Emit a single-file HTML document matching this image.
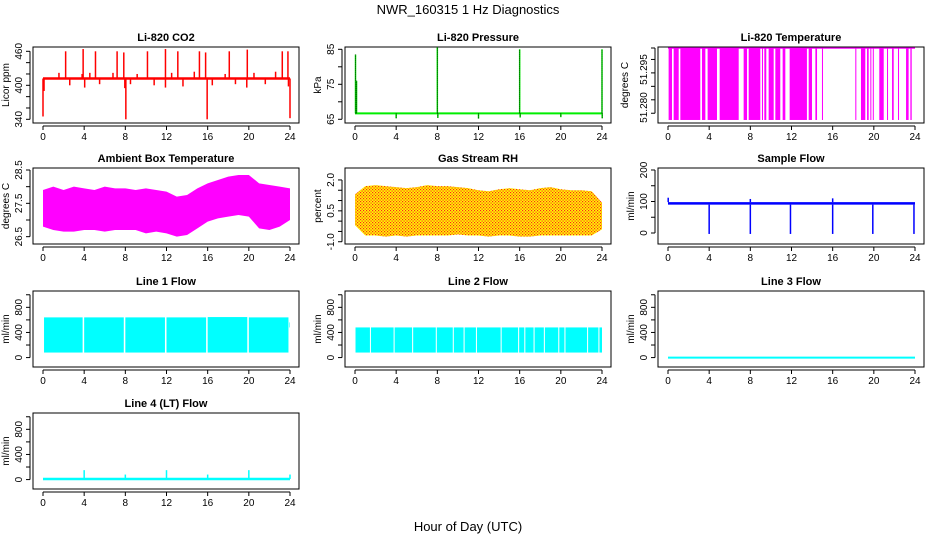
<!DOCTYPE html>
<html><head><meta charset="utf-8"><style>
html,body{margin:0;padding:0;background:#fff;}
svg{display:block;font-family:"Liberation Sans",sans-serif;}
</style></head><body>
<svg id="chart" width="936" height="540" viewBox="0 0 936 540" xmlns="http://www.w3.org/2000/svg">
<defs>
<pattern id="rhdots" width="3" height="3" patternUnits="userSpaceOnUse">
<rect width="3" height="3" fill="#ffff00"/><rect x="0" y="0" width="1.2" height="1.2" fill="#ff2020"/><rect x="1.5" y="1.5" width="1.2" height="1.2" fill="#ff2020"/>
</pattern>
</defs>
<text x="468" y="14" text-anchor="middle" font-size="13">NWR_160315  1 Hz Diagnostics</text>
<text x="468" y="531" text-anchor="middle" font-size="13">Hour of Day (UTC)</text>
</svg>
<script>
// ---- data ----
const xTicks = [0,4,8,12,16,20,24];
const co2Base = 412;
const co2Hours = [2.2,3.9,5.1,7.2,7.85,10.15,11.9,13.1,15.2,15.8,18.1,19.85,23.25,23.8,1.55,3.8,4.55,6.8,9.15,12.5,14.7,17.7,20.5,22.6,0,0.1,2.6,4.05,5.5,7.95,8.05,8.5,10.8,11.9,13.6,15.95,16.45,18.7,19.8,21.6,23.85,24];
const co2Values = [460,464,460,460,458,460,464,460,460,458,460,463,460,460,422,420,422,422,420,422,424,420,422,424,345,390,400,396,402,395,340,402,400,396,398,340,400,402,396,402,398,342];
const presBase = 66.7;
const presHours = [0.05,0.15,8.0,16.0,24.0,4,12,20,8.05,16.05,24.02];
const presValues = [83.5,76,85.5,85,85,65.3,65.2,65.6,65.4,65.5,65.3];
const tempStart = [0.06,0.55,1.2,3.3,3.85,5.02,7.35,7.84,9.13,9.36,9.78,10.43,11.14,11.82,13.67,14.32,14.96,18.2,18.75,19.34,19.66,19.9,20.53,21.28,21.77,22.35,23.13,23.55];
const tempEnd = [0.39,1.04,3.14,3.63,4.76,6.87,7.68,8.97,9.23,9.55,10.27,10.91,11.4,13.5,13.99,14.48,15.06,18.3,19.17,19.5,19.72,19.98,20.96,21.38,21.93,22.41,23.38,23.68];
const tempHigh = 51.2999, tempLow = 51.2785;
const hourly = [0,1,2,3,4,5,6,7,8,9,10,11,12,13,14,15,16,17,18,19,20,21,22,23,24];
const ambHi = [27.9,28.0,27.9,28.0,27.95,27.9,28.0,27.95,27.95,27.9,27.95,27.9,27.85,27.7,27.75,27.95,28.1,28.2,28.3,28.35,28.35,28.1,28.05,28.0,27.95];
const ambLo = [26.8,26.7,26.65,26.65,26.7,26.7,26.65,26.7,26.7,26.7,26.6,26.65,26.6,26.5,26.55,26.75,26.95,27.05,27.1,27.15,27.1,26.75,26.7,26.8,27.0];
const rhHi = [1.3,1.7,1.75,1.7,1.65,1.6,1.65,1.75,1.7,1.7,1.65,1.6,1.5,1.45,1.55,1.6,1.55,1.5,1.6,1.65,1.55,1.5,1.5,1.45,0.9];
const rhLo = [-0.2,-0.7,-0.7,-0.75,-0.7,-0.75,-0.7,-0.7,-0.7,-0.7,-0.65,-0.7,-0.7,-0.75,-0.7,-0.7,-0.75,-0.75,-0.7,-0.7,-0.7,-0.7,-0.7,-0.7,-0.4];
const flowBaseHi = 98, flowBaseLo = 90;
const flowDipHours = [4,8,11.9,16,19.9,23.9];
const flowSpikeHours = [0.02,8,16];
const flowSpikeValues = [112,108,110];
const l1Start = [0.1,4.0,8.0,12.0,16.0,20.0,23.95];
const l1End = [3.85,7.85,11.85,15.85,19.85,23.85,24.0];
const l1Lo = [80,80,80,80,80,80,480];
const l1Hi = [640,640,640,640,645,640,560];
const l2Start = [0.05,1.55,3.85,5.65,7.95,9.6,10.65,11.85,14.25,15.95,16.55,17.45,18.45,19.85,20.45,22.65,23.75];
const l2End = [1.45,3.75,5.55,7.85,9.5,10.55,11.75,14.15,15.85,16.45,17.35,18.35,19.75,20.35,22.55,23.65,24.0];
const l2Lo = 80, l2Hi = 480;
const l3Value = 0;
const l4Base = 10;
const l4Hours = [4,8,12,16,20,24];
const l4Values = [150,80,150,80,150,80];

// ---- helpers ----
const svg = document.getElementById('chart');
const NS = 'http://www.w3.org/2000/svg';
function mk(tag, attrs, parent){const e=document.createElementNS(NS,tag);for(const k in attrs)e.setAttribute(k,attrs[k]);(parent||svg).appendChild(e);return e;}
const W = 266, H = 76;
function panel(name, title, left, top, ylim, yTicks, yLabels, ytitle, ytOff){
  const g = mk('g',{});
  
  
  const P = {g,left,top,
    x:h=>left+10+h*247/24,
    y:v=>top+H-(v-ylim[0])/(ylim[1]-ylim[0])*H};
  const t = mk('text',{x:left+W/2,y:top-6,'text-anchor':'middle','font-size':'11','font-weight':'bold'},g);
  t.textContent = title;
  
  
  const xa = mk('g',{},g);
  
  
  const by = top+H+3;
  mk('line',{x1:P.x(0),x2:P.x(24),y1:by,y2:by,stroke:'#000'},xa);
  xTicks.forEach(h=>{
    mk('line',{x1:P.x(h),x2:P.x(h),y1:by,y2:by+4,stroke:'#000'},xa);
    const l=mk('text',{x:P.x(h),y:by+14,'text-anchor':'middle','font-size':'10'},xa);l.textContent=h;
  });
  const ya = mk('g',{},g);
  
  
  const ax = left-3;
  mk('line',{x1:ax,x2:ax,y1:P.y(yTicks[0]),y2:P.y(yTicks[yTicks.length-1]),stroke:'#000'},ya);
  yTicks.forEach(v=>mk('line',{x1:ax-4,x2:ax,y1:P.y(v),y2:P.y(v),stroke:'#000'},ya));
  yLabels.forEach(([v,s])=>{
    const yy=P.y(v);const l=mk('text',{x:ax-8,y:yy,'text-anchor':'middle','font-size':'10',transform:`rotate(-90 ${ax-8} ${yy})`},ya);l.textContent=s;
  });
  const tx = left-(ytOff||24);
  const yt=mk('text',{x:tx,y:top+H/2,'text-anchor':'middle','font-size':'10',transform:`rotate(-90 ${tx} ${top+H/2})`},g);
  yt.textContent=ytitle;
  
  
  P.finish=()=>{mk('rect',{x:left,y:top,width:W,height:H,fill:'none',stroke:'#000'},g);};
  return P;
}
function vline(P,h,v1,v2,col,w){return mk('line',{x1:P.x(h),x2:P.x(h),y1:P.y(v1),y2:P.y(v2),stroke:col,'stroke-width':w||1},P.g);}
function band(P,hs,hi,lo,fill){
  let d='M'+hs.map((h,i)=>P.x(h)+','+P.y(hi[i])).join('L');
  for(let i=hs.length-1;i>=0;i--) d+='L'+P.x(hs[i])+','+P.y(lo[i]);
  return mk('path',{d:d+'Z',fill:fill},P.g);
}
const C1=33,C2=345,C3=658,R1=47,R2=168,R3=291,R4=413;
const flowTicks=[0,200,400,600,800,1000];
const flowLabels=[[0,'0'],[400,'400'],[800,'800']];

let P = panel('panel-co2','Li-820 CO2',C1,R1,[333.5,467.6],[340,360,380,400,420,440,460],[[340,'340'],[400,'400'],[460,'460']],'Licor ppm');
co2Hours.forEach((h,i)=>{const e=vline(P,h,co2Base,co2Values[i],'#ff0000',1.5);});
let e=mk('line',{x1:P.x(0),x2:P.x(24),y1:P.y(co2Base),y2:P.y(co2Base),stroke:'#ff0000','stroke-width':2.5},P.g);


P.finish();

P = panel('panel-pressure','Li-820 Pressure',C2,R1,[63.94,85.66],[65,70,75,80,85],[[65,'65'],[75,'75'],[85,'85']],'kPa');
e=mk('line',{x1:P.x(0),x2:P.x(24),y1:P.y(presBase),y2:P.y(presBase),stroke:'#00ee00','stroke-width':2},P.g);


presHours.forEach((h,i)=>{vline(P,h,presBase,presValues[i],'#00ee00',1.5);const d=vline(P,h,presBase,presValues[i],'#000',0.8);d.setAttribute('stroke-dasharray','1,1');

});
P.finish();

P = panel('panel-li820-temp','Li-820 Temperature',C3,R1,[51.2776,51.3002],[51.2805,51.2845,51.2885,51.2925,51.2965,51.2999],[[51.2822,'51.280'],[51.2935,'51.295']],'degrees C',30);
e=mk('line',{x1:P.x(0),x2:P.x(24),y1:P.y(tempHigh),y2:P.y(tempHigh),stroke:'#ff00ff','stroke-width':1.5},P.g);


tempStart.forEach((s,i)=>{const r=mk('rect',{x:P.x(s),y:P.y(tempHigh),width:Math.max(1,P.x(tempEnd[i])-P.x(s)),height:P.y(tempLow)-P.y(tempHigh),fill:'#ff00ff'},P.g);

});
P.finish();

P = panel('panel-ambient-temp','Ambient Box Temperature',C1,R2,[26.28,28.56],[26.5,27,27.5,28,28.5],[[26.5,'26.5'],[27.5,'27.5'],[28.5,'28.5']],'degrees C');
e=band(P,hourly,ambHi,ambLo,'#ff00ff');


P.finish();

P = panel('panel-rh','Gas Stream RH',C2,R2,[-1.11,2.58],[-1,-0.5,0,0.5,1,1.5,2],[[-1,'-1.0'],[0.5,'0.5'],[2,'2.0']],'percent');
e=band(P,hourly,rhHi,rhLo,'url(#rhdots)');


P.finish();

P = panel('panel-sample-flow','Sample Flow',C3,R2,[-34.9,206.3],[0,50,100,150,200],[[0,'0'],[100,'100'],[200,'200']],'ml/min');
e=mk('rect',{x:P.x(0),y:P.y(flowBaseHi),width:P.x(24)-P.x(0),height:P.y(flowBaseLo)-P.y(flowBaseHi),fill:'#0000ff'},P.g);


flowDipHours.forEach(h=>{const d=vline(P,h,flowBaseLo,-3,'#0000ff',1.5);});
flowSpikeHours.forEach((h,i)=>{vline(P,h,flowBaseHi,flowSpikeValues[i],'#0000ff',1.5);});
P.finish();

function flowPanel(name,title,left,top){return panel(name,title,left,top,[-150,1060],flowTicks,flowLabels,'ml/min');}
P = flowPanel('panel-line1-flow','Line 1 Flow',C1,R3);
l1Start.forEach((s,i)=>{const r=mk('rect',{x:P.x(s),y:P.y(l1Hi[i]),width:P.x(l1End[i])-P.x(s),height:P.y(l1Lo[i])-P.y(l1Hi[i]),fill:'#00ffff'},P.g);

});
P.finish();

P = flowPanel('panel-line2-flow','Line 2 Flow',C2,R3);
l2Start.forEach((s,i)=>{const r=mk('rect',{x:P.x(s),y:P.y(l2Hi),width:P.x(l2End[i])-P.x(s),height:P.y(l2Lo)-P.y(l2Hi),fill:'#00ffff'},P.g);

});
P.finish();

P = flowPanel('panel-line3-flow','Line 3 Flow',C3,R3);
e=mk('line',{x1:P.x(0),x2:P.x(24),y1:P.y(l3Value),y2:P.y(l3Value),stroke:'#00ffff','stroke-width':2},P.g);


P.finish();

P = flowPanel('panel-line4-flow','Line 4 (LT) Flow',C1,R4);
e=mk('line',{x1:P.x(0),x2:P.x(24),y1:P.y(l4Base),y2:P.y(l4Base),stroke:'#00ffff','stroke-width':2.5},P.g);


l4Hours.forEach((h,i)=>{const d=vline(P,h,l4Base,l4Values[i],'#00ffff',1.5);});
P.finish();
</script>
</body></html>
